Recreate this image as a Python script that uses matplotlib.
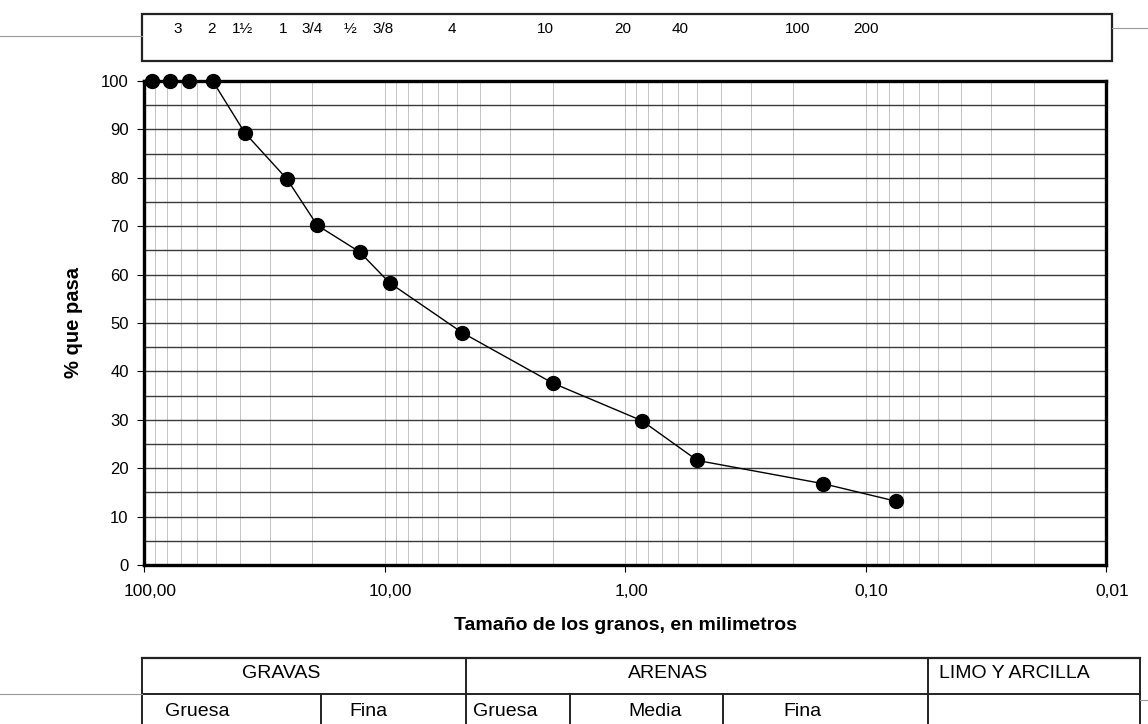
import numpy as np
import matplotlib
matplotlib.use("Agg")
import matplotlib.pyplot as plt
from matplotlib.ticker import FixedLocator, NullFormatter, LogLocator
from matplotlib.transforms import ScaledTranslation, blended_transform_factory

plt.rcParams['font.family'] = ['Liberation Sans', 'DejaVu Sans']

# ---- data ----
diam_mm = [92.9, 78.0, 65.0, 51.8, 38.1, 25.4, 19.05, 12.7, 9.525, 4.75, 2.0, 0.85, 0.5, 0.15, 0.075]
pct_pass = [100, 100, 100, 100, 89.3, 79.7, 70.2, 64.7, 58.3, 48.0, 37.6, 29.8, 21.6, 16.8, 13.2]

x_ticks = [100, 10, 1, 0.1, 0.01]
x_ticklabels = ["100,00", "10,00", "1,00", "0,10", "0,01"]
y_ticks = list(range(0, 101, 10))

sieve_labels = ["3", "2", "1½", "1", "3/4", "½", "3/8", "4", "10", "20", "40", "100", "200"]
sieve_label_mm = [72.2, 52.2, 39.1, 26.4, 20.0, 13.9, 10.1, 5.24, 2.15, 1.02, 0.59, 0.191, 0.100]

W, H = 1148, 724
fig = plt.figure(figsize=(W / 100, H / 100), dpi=100)

def fr(x0, y0, x1, y1):
    return [x0 / W, 1 - y1 / H, (x1 - x0) / W, (y1 - y0) / H]

# background pixel axes for frames/table
bg = fig.add_axes([0, 0, 1, 1])
bg.set_xlim(0, W)
bg.set_ylim(H, 0)
bg.axis('off')

ax = fig.add_axes(fr(144, 81, 1106, 565))
ax.set_xscale('log')
ax.set_xlim(100, 0.01)
ax.set_ylim(0, 100)

ax.plot(diam_mm, pct_pass, color='black', lw=1.0, marker='o', markersize=10,
        markerfacecolor='black', markeredgecolor='black', zorder=5, clip_on=False)

ax.xaxis.set_major_locator(FixedLocator(x_ticks))
ax.set_xticklabels(x_ticklabels, fontsize=12.5)
ax.xaxis.set_minor_locator(LogLocator(base=10, subs=np.arange(2, 10)))
ax.xaxis.set_minor_formatter(NullFormatter())
ax.set_yticks(y_ticks)
ax.set_yticks(list(range(5, 100, 10)), minor=True)
ax.tick_params(axis='y', which='major', labelsize=12, length=5, pad=6)
ax.tick_params(axis='y', which='minor', length=0)
ax.tick_params(axis='x', which='major', length=5, pad=9)
ax.tick_params(axis='x', which='minor', length=0)
for lab in ax.get_xticklabels():
    lab.set_transform(lab.get_transform() + ScaledTranslation(6 / 100, 0, fig.dpi_scale_trans))

ax.grid(True, axis='x', which='both', color='#c4c4c4', lw=0.7)
ax.grid(True, axis='y', which='both', color='#3a3a3a', lw=1.0)
ax.set_axisbelow(True)
for s in ax.spines.values():
    s.set_linewidth(2.4)
    s.set_color('black')

ax.set_ylabel("% que pasa", fontsize=14.5, fontweight='bold', labelpad=13)
ax.set_xlabel("Tamaño de los granos, en milimetros", fontsize=14, fontweight='bold', labelpad=13)

# top sieve box
bg.add_patch(plt.Rectangle((142, 14), 970, 47, fill=False, lw=1.6, ec='#222222'))
bg.plot([0, 142], [36, 36], color='#999999', lw=0.8)
bg.plot([1112, W], [28, 28], color='#999999', lw=0.8)
tr = blended_transform_factory(ax.transData, bg.transData)
for lab, mm in zip(sieve_labels, sieve_label_mm):
    t = fig.text(0, 0, lab, transform=tr, fontsize=11, ha='center', va='center')
    t.set_position((mm, 29))

# bottom classification table
tc = '#222222'
bg.plot([142, 1140], [658, 658], color=tc, lw=1.6)
bg.plot([142, 1140], [694, 694], color=tc, lw=1.4)
for x in [142, 466, 928, 1140]:
    bg.plot([x, x], [658, H], color=tc, lw=1.4)
for x in [321, 570, 723]:
    bg.plot([x, x], [694, H], color=tc, lw=1.4)
bg.plot([0, 142], [694, 694], color='#999999', lw=0.8)
bg.plot([1140, W], [700, 700], color='#999999', lw=0.8)

cells_top = [("GRAVAS", 281), ("ARENAS", 668), ("LIMO Y ARCILLA", 1014)]
cells_bot = [("Gruesa", 197), ("Fina", 368), ("Gruesa", 505), ("Media", 655), ("Fina", 802)]
for t, x in cells_top:
    bg.text(x, 674, t, fontsize=14, ha='center', va='center')
for t, x in cells_bot:
    bg.text(x, 711, t, fontsize=14, ha='center', va='center')

fig.savefig("out.png", dpi=100)
